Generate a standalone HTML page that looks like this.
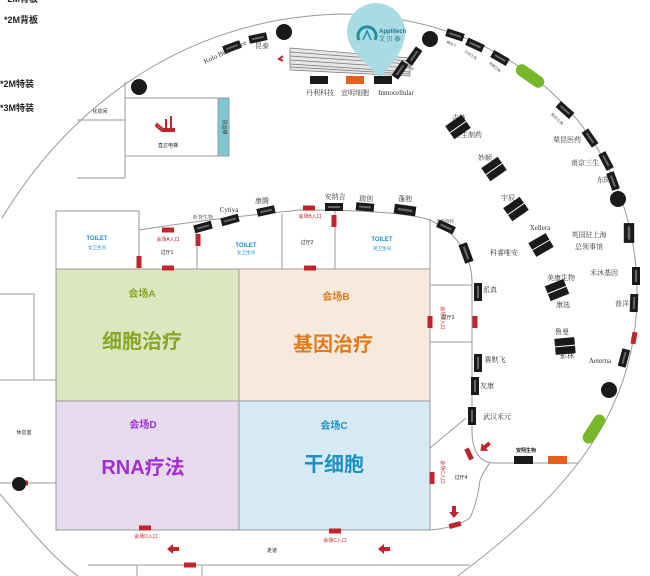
<!DOCTYPE html>
<html><head><meta charset="utf-8"><style>
html,body{margin:0;padding:0;background:#fff;}
svg{display:block;font-family:"Liberation Sans","Noto Sans CJK SC",sans-serif;}
.t{fill:#222;font-size:5px;text-anchor:middle;}
.s{font-family:"Liberation Serif","Noto Serif CJK SC",serif;fill:#333;font-size:7px;text-anchor:middle;}
.l{fill:none;stroke:#9a9a9a;stroke-width:1;}
</style></head><body>
<svg width="650" height="576" viewBox="0 0 650 576" xmlns="http://www.w3.org/2000/svg">
<defs>
<g id="tg"><rect x="-9" y="-4" width="18" height="8" fill="#1a1a1a"/><rect x="-6" y="-1" width="12" height="2" fill="#666"/></g>
<g id="tp"><rect x="-10" y="-8" width="20" height="16" fill="#1a1a1a"/><line x1="-10" y1="0" x2="10" y2="0" stroke="#fff" stroke-width="1"/></g>
<g id="dr"><rect x="-6" y="-2.5" width="12" height="5" fill="#c0242c"/></g>
<g id="dv"><rect x="-2.5" y="-6" width="5" height="12" fill="#c0242c"/></g>
<g id="ar"><path d="M-6,0 L0,-5 L0,-2 L6,-2 L6,2 L0,2 L0,5 Z" fill="#c0242c"/></g>
</defs>

<text x="4" y="23" font-size="9" font-weight="bold" fill="#222">*2M背板</text>
<text x="0" y="87" font-size="9" font-weight="bold" fill="#222">*2M特装</text>
<text x="0" y="111" font-size="9" font-weight="bold" fill="#222">*3M特装</text>
<text x="4" y="2" font-size="9" font-weight="bold" fill="#222">*2M背板</text>

<path class="l" d="M2,218 C80,90 200,18 340,14 C520,16 640,140 637,300 C634,420 560,500 455,578"/>
<path class="l" d="M0,494 C30,530 55,560 78,576"/>

<path class="l" d="M125,82 L125,178 L77,178"/>
<path class="l" d="M77,120 L125,120"/>
<rect x="125" y="98" width="93" height="58" fill="#fff" stroke="#9a9a9a"/>
<rect x="218" y="98" width="11" height="58" fill="#7cc7d0" stroke="#9a9a9a"/>
<text x="223" y="127" font-size="5" fill="#333" transform="rotate(90 223 127)" text-anchor="middle">货运梯</text>
<text x="100" y="113" class="t">化妆间</text>
<path d="M157,124 l6,5 h11 v2 h-12 l-6,-5z M166,119 v10 M171,116 v12" stroke="#c0242c" stroke-width="2" fill="none"/>
<text x="168" y="147" class="t">直达电梯</text>
<path class="l" d="M0,294 L34,294 L34,380 L0,380"/>
<path class="l" d="M0,380 L56,380 M0,483 L56,483"/>
<text x="24" y="434" class="t">休息室</text>
<use href="#dr" x="22" y="483"/>
<path class="l" d="M88,565 L470,565 M137,565 V576 M202,565 V576"/>
<use href="#dr" x="190" y="565"/>
<text x="272" y="552" class="t" font-size="6">走道</text>

<path class="l" d="M56,269 V211 H139 V269 M139,230 Q200,220 300,210 Q400,210 430,220 Q470,240 472,280 L472,430 Q472,463 495,463 L578,463"/>
<path class="l" d="M197,230 V269 M282,214 V269 M335,210 V269 M430,219 V285 M430,285 H472 M430,342 H472 M430,448 L466,418"/>
<path class="l" d="M430,530 Q455,528 470,518 Q478,500 480,480 Q484,470 490,463"/>
<rect x="56" y="269" width="183" height="132" fill="#dde7bf" stroke="#9a9a9a"/>
<rect x="239" y="269" width="191" height="132" fill="#f6e9dd" stroke="#9a9a9a"/>
<rect x="56" y="401" width="183" height="129" fill="#e5dbed" stroke="#9a9a9a"/>
<rect x="239" y="401" width="191" height="129" fill="#d6eaf5" stroke="#9a9a9a"/>
<g font-weight="bold" text-anchor="middle">
<text x="142" y="297" font-size="10" fill="#86a826">会场A</text>
<text x="142" y="348" font-size="20" fill="#86a826">细胞治疗</text>
<text x="336" y="300" font-size="10" fill="#e07b19">会场B</text>
<text x="333" y="351" font-size="20" fill="#e07b19">基因治疗</text>
<text x="143" y="428" font-size="10" fill="#a12fd0">会场D</text>
<text x="143" y="474" font-size="20" fill="#a12fd0">RNA疗法</text>
<text x="334" y="429" font-size="10" fill="#1e91c3">会场C</text>
<text x="334" y="471" font-size="20" fill="#1e91c3">干细胞</text>
</g>
<g font-size="6" font-weight="bold" fill="#1e8fd0" text-anchor="middle">
<text x="97" y="240">TOILET</text><text x="246" y="247">TOILET</text><text x="382" y="241">TOILET</text>
</g>
<g font-size="4.5" fill="#1e8fd0" text-anchor="middle">
<text x="97" y="249">女卫生间</text><text x="246" y="254">女卫生间</text><text x="382" y="250">男卫生间</text>
</g>
<g class="t" style="fill:#c0242c">
<text x="168" y="241">会场A入口</text><text x="310" y="218">会场B入口</text>
<text x="146" y="538">会场D入口</text><text x="335" y="542">会场C入口</text>
</g>
<text x="441" y="318" class="t" style="fill:#c0242c" transform="rotate(90 441 318)">会场B入口</text>
<text x="441" y="472" class="t" style="fill:#c0242c" transform="rotate(90 441 472)">会场C入口</text>
<text x="167" y="254" class="t">过厅1</text><text x="307" y="244" class="t">过厅2</text>
<text x="448" y="319" class="t">过厅3</text><text x="461" y="479" class="t">过厅4</text>

<use href="#dr" x="168" y="230"/><use href="#dr" x="168" y="268"/><use href="#dv" x="139" y="262"/>
<use href="#dv" x="198" y="240"/><use href="#dr" x="309" y="208"/><use href="#dr" x="310" y="268"/>
<use href="#dv" x="334" y="221"/><use href="#dv" x="430" y="322"/><use href="#dv" x="475" y="322"/>
<use href="#dv" x="432" y="478"/><use href="#dr" x="145" y="528"/><use href="#dr" x="335" y="531"/>
<use href="#dv" transform="translate(469,454) rotate(-25)"/><use href="#dr" transform="translate(455,525) rotate(-15)"/>
<use href="#dv" transform="translate(634,338) rotate(10)"/>
<use href="#ar" x="173" y="549"/><use href="#ar" x="384" y="549"/>
<use href="#ar" transform="translate(485,447) rotate(-40)"/><use href="#ar" transform="translate(454,512) rotate(-90)"/>

<circle cx="139" cy="87" r="8" fill="#1a1a1a"/><circle cx="284" cy="32" r="8" fill="#1a1a1a"/>
<circle cx="430" cy="39" r="8" fill="#1a1a1a"/><circle cx="618" cy="199" r="8" fill="#1a1a1a"/>
<circle cx="609" cy="390" r="8" fill="#1a1a1a"/><circle cx="19" cy="484" r="7" fill="#1a1a1a"/>

<g stroke="#777" stroke-width="0.7" fill="#e6e6e6">
<path d="M290,48 L410,58 L410,76 L290,70 Z"/>
<path d="M290,52 L410,61 M290,56 L410,64 M290,60 L410,68 M290,64 L410,72 M290,67 L410,74" fill="none"/>
</g>
<path d="M283,56 l-4,3 l4,2" stroke="#c0242c" stroke-width="2" fill="none"/>

<path d="M380,78 C370,65 347,52 347,32 A28,28 0 1 1 405,32 C405,52 390,65 380,78 Z" fill="#aadbe3"/>
<path d="M359,40 A9,9 0 1 1 375,40" stroke="#1e8fa8" stroke-width="3" fill="none"/>
<path d="M363,40 L367,31 L371,40" stroke="#1e8fa8" stroke-width="1.5" fill="none"/>
<text x="379" y="33" font-size="6" fill="#1e7a90" font-weight="bold">Applitech</text>
<text x="379" y="41" font-size="6" fill="#1e7a90">艾 贝 泰</text>

<use href="#tg" transform="translate(232,47) rotate(-20)"/><use href="#tg" transform="translate(258,38) rotate(-12)"/>
<text class="s" font-size="5" transform="translate(226,54) rotate(-25)">Kolo Bioscience</text>
<text class="s" x="262" y="48" font-size="5">昆泰</text>
<rect x="310" y="76" width="18" height="8" fill="#1a1a1a"/>
<rect x="346" y="76" width="18" height="8" fill="#e8601c"/>
<rect x="374" y="76" width="18" height="8" fill="#1a1a1a"/>
<text class="s" x="320" y="95" font-size="6.5">丹利科技</text><text class="s" x="355" y="95" font-size="6.5">宜明细胞</text><text class="s" x="396" y="95" font-size="6.5">Inmocellular</text>
<use href="#tg" transform="translate(400,70) rotate(-55)"/><use href="#tg" transform="translate(414,56) rotate(-55)"/>
<use href="#tg" transform="translate(455,35) rotate(18)"/><use href="#tg" transform="translate(475,45) rotate(25)"/>
<use href="#tg" transform="translate(500,58) rotate(30)"/>
<text class="s" style="font-size:3.5px" transform="translate(451,45) rotate(25)">耀海生</text>
<text class="s" style="font-size:3.5px" transform="translate(470,56) rotate(35)">协和生物</text>
<text class="s" style="font-size:3.5px" transform="translate(494,68) rotate(40)">瑞德生物</text>
<text class="s" style="font-size:3.5px" transform="translate(410,68) rotate(50)">诺源</text>
<rect x="-16" y="-6" width="32" height="12" rx="6" fill="#77b82a" transform="translate(530,76) rotate(35)"/>
<rect x="-16" y="-6" width="32" height="12" rx="6" fill="#77b82a" transform="translate(594,429) rotate(-58)"/>
<use href="#tg" transform="translate(565,110) rotate(42)"/><use href="#tg" transform="translate(590,138) rotate(55)"/>
<use href="#tg" transform="translate(606,161) rotate(62)"/><use href="#tg" transform="translate(613,181) rotate(70)"/>
<use href="#tg" transform="translate(629,233) rotate(90) scale(1.1,1.3)"/><use href="#tg" transform="translate(636,276) rotate(90)"/>
<use href="#tg" transform="translate(634,303) rotate(92)"/><use href="#tg" transform="translate(624,358) rotate(105)"/>
<text class="s" style="font-size:4px" transform="translate(556,120) rotate(45)">赛诺生物</text>
<g class="s" style="font-size:7px">
<text x="567" y="142">栗昆医药</text><text x="585" y="165">南京三生</text><text x="604" y="182">东院</text>
<text x="589" y="237">英国驻上海</text><text x="589" y="249">总领事馆</text><text x="604" y="275">禾沐基因</text>
<text x="622" y="306">普洋</text><text x="600" y="363">Aeterna</text>
<text x="504" y="255">科睿唯安</text><text x="490" y="292">派真</text><text x="495" y="362">赛默飞</text>
<text x="487" y="388">友康</text><text x="497" y="419">武汉禾元</text>
<text x="459" y="120">吉技</text><text x="468" y="137">三生制药</text><text x="485" y="160">妙顺</text>
<text x="508" y="200">宇辰</text><text x="540" y="230">Xellera</text><text x="561" y="280">美康生物</text>
<text x="563" y="307">康选</text><text x="562" y="334">鲁曼</text><text x="567" y="358">影林</text>
<text x="203" y="219" style="font-size:5px">昕智生物</text><text x="229" y="212">Cytiva</text><text x="262" y="203">康腾</text>
<text x="335" y="199">安纳吉</text><text x="366" y="201">瑞创</text><text x="405" y="201">蓬勃</text>
<text x="445" y="223" style="font-size:4.5px">金斯瑞特</text>
</g>
<text x="526" y="452" font-size="5" fill="#222" text-anchor="middle" font-weight="bold">安翔生物</text>
<rect x="514" y="456" width="19" height="8" fill="#1a1a1a"/><rect x="548" y="456" width="19" height="8" fill="#e8601c"/>

<use href="#tg" transform="translate(203,227) rotate(-15)"/><use href="#tg" transform="translate(230,220) rotate(-15)"/>
<use href="#tg" transform="translate(266,211) rotate(-12)"/><use href="#tg" transform="translate(334,207)"/>
<use href="#tg" transform="translate(365,207) rotate(5)"/><use href="#tg" transform="translate(405,210) rotate(8) scale(1.2,1.2)"/>
<use href="#tg" transform="translate(446,227) rotate(25)"/><use href="#tg" transform="translate(466,253) rotate(70) scale(1.1,1.1)"/>
<use href="#tg" transform="translate(478,292) rotate(90)"/><use href="#tg" transform="translate(478,363) rotate(90)"/>
<use href="#tg" transform="translate(475,386) rotate(90)"/><use href="#tg" transform="translate(472,416) rotate(90)"/>
<use href="#tp" transform="translate(458,127) rotate(-35)"/><use href="#tp" transform="translate(494,169) rotate(-35)"/>
<use href="#tp" transform="translate(516,209) rotate(-35)"/><use href="#tp" transform="translate(541,245) rotate(-30)"/>
<use href="#tp" transform="translate(557,290) rotate(-22)"/><use href="#tp" transform="translate(565,346) rotate(-5)"/>
</svg>
</body></html>
